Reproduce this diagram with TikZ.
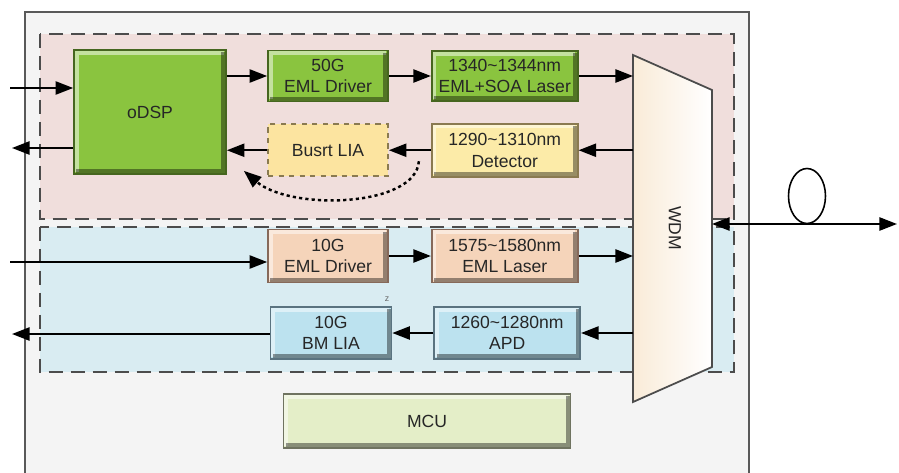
\documentclass[tikz,border=0pt]{standalone}
\usepackage{fontspec}
\setmainfont{Liberation Sans}
\usepackage{xcolor}
\usepackage{tikz}
\usetikzlibrary{arrows.meta, positioning, calc, shapes.geometric}
\definecolor{outerfill}{HTML}{F4F4F4}
\definecolor{upfill}{HTML}{F0DEDC}
\definecolor{downfill}{HTML}{D9ECF2}
\definecolor{dspgreen}{HTML}{8AC43F}
\definecolor{dspedge}{HTML}{46661F}
\definecolor{liayellow}{HTML}{FCE4A0}
\definecolor{detyellow}{HTML}{FCEBA8}
\definecolor{yellowedge}{HTML}{8A7A50}
\definecolor{peach}{HTML}{F5D4BA}
\definecolor{peachedge}{HTML}{86695A}
\definecolor{lblue}{HTML}{BCE2EF}
\definecolor{blueedge}{HTML}{5A7380}
\definecolor{mcufill}{HTML}{E4EEC8}
\definecolor{mcuedge}{HTML}{6F7360}
\definecolor{wdmcream}{HTML}{F9EBD8}
\tikzset{
    bevel/.style={
        path picture={
            \draw[white, opacity=0.5, line width=2.6pt]
                ([shift={(1.3pt,1.3pt)}]path picture bounding box.south west) |-
                ([shift={(-1.3pt,-1.3pt)}]path picture bounding box.north east);
            \draw[black, opacity=0.4, line width=2.6pt]
                ([shift={(1.3pt,1.3pt)}]path picture bounding box.south west) -|
                ([shift={(-1.3pt,-1.3pt)}]path picture bounding box.north east);
        }
    },
    block/.style={
        rectangle,
        line width=1pt,
        minimum width=2.4cm,
        minimum height=1.04cm,
        align=center,
        inner sep=1pt,
        text=black!85,
        font=\fontsize{10}{12.3}\selectfont
    },
    greenblk/.style={block, bevel, fill=dspgreen, draw=dspedge},
    yellowblk/.style={block, bevel, fill=detyellow, draw=yellowedge},
    peachblk/.style={block, bevel, fill=peach, draw=peachedge},
    blueblk/.style={block, bevel, fill=lblue, draw=blueedge},
    mcublk/.style={block, bevel, fill=mcufill, draw=mcuedge},
    liablk/.style={block, fill=liayellow, draw=yellowedge, dashed},
    region/.style={
        draw=black!70,
        line width=0.7pt,
        dash pattern=on 8pt off 4.5pt
    },
    wire/.style={
        draw=black,
        line width=1.1pt,
        -{Triangle[length=10pt,width=7.5pt]}
    },
    fiberwire/.style={
        draw=black,
        line width=1.1pt,
        {Triangle[length=10pt,width=7.5pt]}-{Triangle[length=10pt,width=7.5pt]}
    },
    dotwire/.style={
        draw=black,
        line width=1.4pt,
        dash pattern=on 1.8pt off 1.8pt,
        -{Triangle[length=10pt,width=7.5pt]}
    }
}
\begin{document}
\begin{tikzpicture}[x=0.02cm, y=-0.02cm]
\useasboundingbox (0,0) rectangle (899,473);

% Module frame and the two dashed sections
\fill[outerfill] (25,12) rectangle (749,490);
\draw[black!65, line width=0.8pt] (25,490) -- (25,12) -- (749,12) -- (749,490);
\fill[upfill] (40,34) rectangle (734,219);
\draw[region] (40,34) rectangle (734,219);
\fill[downfill] (40,227) rectangle (734,372);
\draw[region] (40,227) rectangle (734,372);

% 50G upstream/downstream path
\node[greenblk, minimum width=3.04cm, minimum height=2.48cm] (dsp) at (150,112) {oDSP};
\node[greenblk, minimum height=1.02cm] (drv50) at (328,76) {50G\\EML Driver};
\node[greenblk, minimum width=2.92cm, minimum height=1.0cm, right=0.84cm of drv50] (las50) {1340\textasciitilde1344nm\\EML+SOA Laser};
\node[liablk, below=0.42cm of drv50] (lia) {Busrt LIA};
\node[yellowblk, minimum width=2.92cm, minimum height=1.06cm, right=0.84cm of lia] (det) {1290\textasciitilde1310nm\\Detector};

% 10G path
\node[peachblk, minimum height=1.06cm] (drv10) at (328,256) {10G\\EML Driver};
\node[peachblk, minimum width=2.92cm, minimum height=1.06cm, right=0.84cm of drv10] (las10) {1575\textasciitilde1580nm\\EML Laser};
\node[blueblk, minimum width=2.42cm] (bmlia) at (331,333) {10G\\BM LIA};
\node[blueblk, minimum width=2.92cm, right=0.82cm of bmlia] (apd) {1260\textasciitilde1280nm\\APD};
\node[font=\fontsize{5}{6}\selectfont, text=black!60] (zmark) at (387,299) {z};

\node[mcublk, minimum width=5.74cm, minimum height=1.08cm] (mcu) at (427,421) {MCU};

% WDM
\coordinate (wdmtl) at (633,55);
\coordinate (wdmtr) at (712,90);
\coordinate (wdmbr) at (712,367);
\coordinate (wdmbl) at (633,402);
\draw[black!70, line width=1pt, left color=wdmcream, right color=white]
    (wdmtl) -- (wdmtr) -- (wdmbr) -- (wdmbl) -- cycle;
\node[rotate=-90, font=\fontsize{10}{12}\selectfont, text=black!85] (wdm) at (675,228) {WDM};

% Fiber
\coordinate (fib) at (897,224);
\node[draw, ellipse, line width=0.9pt, minimum width=0.74cm, minimum height=1.1cm, inner sep=0pt] (loop) at (807,196) {};
\draw[fiberwire] (wdmtr |- fib) -- (fib);

% Free ends on the host side
\coordinate (in50) at (10,88);
\coordinate (out50) at (12,148);
\coordinate (in10) at (10,262);
\coordinate (out10) at (12,334);

% Connections
\draw[wire] (in50) -- (in50 -| dsp.west);
\draw[wire] (dsp.east |- drv50) -- (drv50);
\draw[wire] (drv50) -- (las50);
\draw[wire] (las50) -- (las50 -| wdmtl);
\draw[wire] (det -| wdmtl) -- (det);
\draw[wire] (det) -- (lia);
\draw[wire] (lia) -- (lia -| dsp.east);
\draw[wire] (dsp.west |- out50) -- (out50);
\draw[dotwire] ($(det.west)+(-12,11)$) .. controls +(-3,46) and +(47,40) .. ($(dsp.south east)+(17,-4)$);

\draw[wire] (in10) -- (in10 -| drv10.west);
\draw[wire] (drv10) -- (las10);
\draw[wire] (las10) -- (las10 -| wdmtl);
\draw[wire] (apd -| wdmtl) -- (apd);
\draw[wire] (apd) -- (bmlia);
\draw[wire] (bmlia.west |- out10) -- (out10);

\end{tikzpicture}
\end{document}
